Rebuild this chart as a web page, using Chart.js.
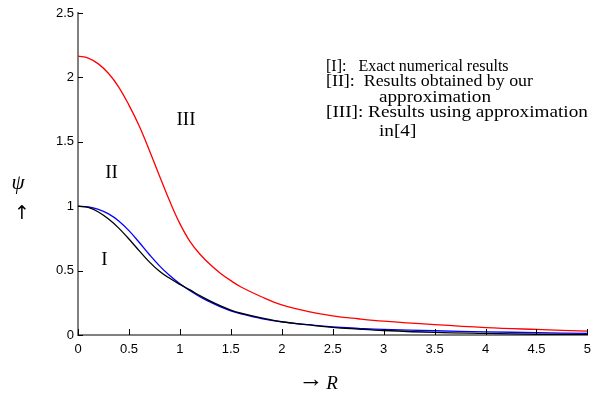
<!DOCTYPE html>
<html>
<head>
<meta charset="utf-8">
<script src="https://cdn.jsdelivr.net/npm/chart.js@4.4.1/dist/chart.umd.min.js"></script>
<style>
  html, body { margin: 0; padding: 0; background: #fff; }
  #wrap { width: 598px; height: 398px; }
</style>
</head>
<body>
<div id="wrap"><canvas id="psiChart" width="598" height="398"></canvas></div>
<script>
// R values shared by all three curves
const rValues = [0, 0.1, 0.2, 0.3, 0.4, 0.5, 0.6, 0.7, 0.8, 0.9, 1.0, 1.1, 1.2, 1.3, 1.4, 1.5, 1.6, 1.8, 2.0, 2.25, 2.5, 2.75, 3, 3.5, 4, 4.5, 5];

// [I] exact numerical results
const exactPsi = [1.0, 0.99, 0.955, 0.90, 0.83, 0.745, 0.655, 0.568, 0.495, 0.44, 0.393, 0.35, 0.304, 0.263, 0.226, 0.194, 0.17, 0.133, 0.103, 0.08, 0.059, 0.046, 0.035, 0.02, 0.012, 0.006, 0.003];
// [II] our approximation
const approxPsi = [1.0, 0.995, 0.975, 0.94, 0.885, 0.81, 0.72, 0.625, 0.537, 0.462, 0.398, 0.343, 0.295, 0.255, 0.218, 0.188, 0.165, 0.128, 0.102, 0.08, 0.063, 0.052, 0.043, 0.033, 0.025, 0.018, 0.012];
// [III] approximation in [4]
const ref4Psi = [2.165, 2.15, 2.105, 2.03, 1.925, 1.785, 1.625, 1.435, 1.235, 1.04, 0.865, 0.725, 0.625, 0.545, 0.478, 0.422, 0.373, 0.297, 0.234, 0.184, 0.149, 0.126, 0.107, 0.08, 0.058, 0.043, 0.03];

const xTicks = [0, 0.5, 1, 1.5, 2, 2.5, 3, 3.5, 4, 4.5, 5];
const yTicks = [0, 0.5, 1, 1.5, 2, 2.5];

const legendLines = [
    { text: '[I]:   Exact numerical results', indent: false },
    { text: '[II]:  Results obtained by our', indent: false },
    { text: 'approximation', indent: true },
    { text: '[III]: Results using approximation', indent: false },
    { text: 'in[4]', indent: true }
];
// widths the lines take in the reference
const legendWidths = [169, 207, 116, 266, 41];

const toPoints = ys => rValues.map((r, i) => ({ x: r, y: ys[i] }));

const curve = (data, color) => ({
    data: toPoints(data),
    borderColor: color,
    borderWidth: 1.3,
    pointRadius: 0,
    fill: false,
    tension: 0.4
});

// inward tick marks, curve labels, legend text and axis labels
const decorations = {
    id: 'decorations',
    afterDraw(chart) {
        const ctx = chart.ctx;
        const xs = chart.scales.x;
        const ys = chart.scales.y;
        const area = chart.chartArea;

        ctx.save();
        ctx.strokeStyle = '#000';
        ctx.lineWidth = 1;
        xTicks.forEach(v => {
            const px = Math.round(xs.getPixelForValue(v)) + 0.5;
            ctx.beginPath();
            ctx.moveTo(px, area.bottom);
            ctx.lineTo(px, area.bottom - 6);
            ctx.stroke();
        });
        yTicks.forEach(v => {
            const py = Math.round(ys.getPixelForValue(v)) + 0.5;
            ctx.beginPath();
            ctx.moveTo(area.left, py);
            ctx.lineTo(area.left + 5, py);
            ctx.stroke();
        });

        ctx.fillStyle = '#000';
        ctx.textBaseline = 'middle';
        ctx.textAlign = 'center';
        ctx.font = '19px "Liberation Serif"';
        ctx.fillText('III', xs.getPixelForValue(1.06), ys.getPixelForValue(1.67));
        ctx.fillText('II', xs.getPixelForValue(0.33), ys.getPixelForValue(1.26));
        ctx.fillText('I', xs.getPixelForValue(0.26), ys.getPixelForValue(0.58));

        ctx.textAlign = 'left';
        ctx.font = '16px "Liberation Serif"';
        const lineY = [67, 82, 98, 113, 132];
        legendLines.forEach((l, i) => {
            const w = ctx.measureText(l.text).width;
            const k = Math.min(1.2, Math.max(1, legendWidths[i] / w));
            ctx.save();
            ctx.translate(l.indent ? 379 : 326, lineY[i]);
            ctx.scale(k, 1);
            ctx.fillText(l.text, 0, 0);
            ctx.restore();
        });

        ctx.textAlign = 'center';
        ctx.font = 'italic 21px "Liberation Serif"';
        ctx.fillText('\u03c8', 18, 183);
        ctx.font = '19px "DejaVu Sans"';
        ctx.fillText('\u2191', 22, 214);

        ctx.font = '25px "Liberation Serif"';
        ctx.fillText('\u2192', 311, 380);
        ctx.font = 'italic 19px "Liberation Serif"';
        ctx.fillText('R', 332, 384);
        ctx.restore();
    }
};

const ctx = document.getElementById('psiChart').getContext('2d');
new Chart(ctx, {
    type: 'line',
    data: {
        datasets: [
            curve(exactPsi, '#000000'),
            curve(approxPsi, '#0000ff'),
            curve(ref4Psi, '#ff0000')
        ]
    },
    options: {
        responsive: false,
        animation: false,
        layout: { padding: { top: 13, right: 9, left: 0, bottom: 0 } },
        plugins: { legend: { display: false }, tooltip: { enabled: false } },
        scales: {
            x: {
                type: 'linear',
                min: 0,
                max: 5,
                afterBuildTicks: s => { s.ticks = xTicks.map(v => ({ value: v })); },
                afterFit: s => { s.height = 63; },
                grid: { display: false, drawTicks: false },
                border: { display: true, color: '#808080', width: 2 },
                ticks: {
                    color: '#000',
                    padding: 7,
                    maxRotation: 0,
                    font: { family: 'Liberation Sans', size: 13 },
                    callback: v => String(v)
                }
            },
            y: {
                type: 'linear',
                min: 0,
                max: 2.5,
                afterBuildTicks: s => { s.ticks = yTicks.map(v => ({ value: v })); },
                afterFit: s => { s.width = 78; },
                grid: { display: false, drawTicks: false },
                border: { display: true, color: '#808080', width: 2 },
                ticks: {
                    color: '#000',
                    padding: 4,
                    font: { family: 'Liberation Sans', size: 13 },
                    callback: v => String(v)
                }
            }
        }
    },
    plugins: [decorations]
});
</script>
</body>
</html>
